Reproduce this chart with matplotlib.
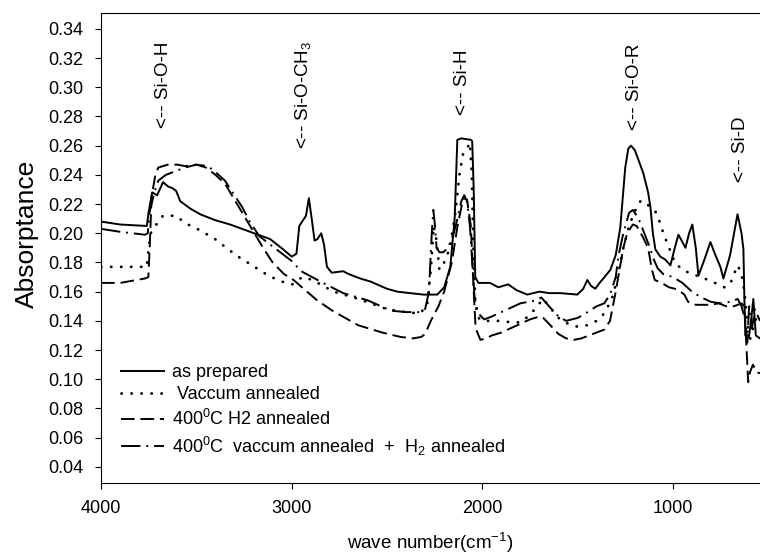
import matplotlib
matplotlib.use("Agg")
import matplotlib.pyplot as plt

# Fonte parecida com Arial
plt.rcParams['font.family'] = ['Liberation Sans', 'DejaVu Sans']
plt.rcParams['mathtext.fontset'] = 'custom'
plt.rcParams['mathtext.rm'] = 'Liberation Sans'
plt.rcParams['mathtext.it'] = 'Liberation Sans'

# as prepared (linha cheia)
prep_wn = [4000, 3900, 3760, 3750, 3732, 3706, 3675, 3648, 3627, 3606, 3585, 3533, 3480, 3402,
           3323, 3218, 3113, 3045, 3000, 2975, 2960, 2945, 2925, 2910, 2895, 2880, 2865, 2845,
           2830, 2815, 2790, 2730, 2700, 2640, 2588, 2500, 2446, 2310, 2236, 2200, 2168, 2145,
           2131, 2110, 2060, 2053, 2045, 2037, 2020, 1960, 1916, 1864, 1820, 1764, 1700, 1650,
           1591, 1501, 1470, 1449, 1430, 1407, 1385, 1365, 1328, 1300, 1276, 1250, 1234, 1220,
           1200, 1180, 1155, 1130, 1118, 1105, 1092, 1066, 1040, 1013, 990, 971, 950, 934, 915,
           898, 880, 866, 840, 803, 780, 751, 735, 700, 661, 640, 630, 625, 620, 600, 590, 578,
           565, 543]
prep_abs = [0.208, 0.206, 0.205, 0.215, 0.228, 0.226, 0.235, 0.232, 0.231, 0.229, 0.222, 0.217,
            0.213, 0.209, 0.206, 0.201, 0.196, 0.189, 0.184, 0.186, 0.205, 0.208, 0.212, 0.224,
            0.210, 0.195, 0.196, 0.200, 0.192, 0.177, 0.173, 0.174, 0.172, 0.169, 0.167, 0.162,
            0.160, 0.158, 0.158, 0.163, 0.177, 0.210, 0.264, 0.265, 0.264, 0.263, 0.230, 0.170,
            0.166, 0.166, 0.163, 0.165, 0.161, 0.158, 0.160, 0.159, 0.159, 0.158, 0.162, 0.168,
            0.164, 0.162, 0.166, 0.169, 0.175, 0.185, 0.204, 0.245, 0.258, 0.260, 0.257, 0.250,
            0.241, 0.228, 0.218, 0.200, 0.189, 0.184, 0.182, 0.178, 0.190, 0.199, 0.194, 0.190,
            0.200, 0.206, 0.190, 0.171, 0.180, 0.194, 0.186, 0.177, 0.169, 0.185, 0.213, 0.200,
            0.189, 0.155, 0.130, 0.130, 0.140, 0.155, 0.130, 0.128]

# Vaccum annealed (pontilhado)
vac_wn = [4000, 3760, 3750, 3740, 3720, 3700, 3675, 3606, 3560, 3480, 3402, 3333, 3281, 3207,
          3123, 3055, 2997, 2945, 2890, 2850, 2780, 2700, 2650, 2500, 2400, 2330, 2290, 2270,
          2255, 2240, 2225, 2200, 2170, 2140, 2120, 2100, 2080, 2065, 2055, 2045, 2035, 2015,
          1990, 1960, 1900, 1850, 1800, 1750, 1700, 1680, 1650, 1600, 1550, 1500, 1450, 1400,
          1360, 1320, 1290, 1260, 1230, 1200, 1170, 1150, 1120, 1092, 1070, 1050, 1020, 990,
          950, 900, 850, 800, 760, 730, 700, 680, 660, 640, 625, 610, 600, 590, 570, 543]
vac_abs = [0.177, 0.177, 0.190, 0.200, 0.204, 0.208, 0.212, 0.212, 0.207, 0.202, 0.196, 0.189,
           0.184, 0.178, 0.171, 0.167, 0.165, 0.170, 0.168, 0.165, 0.160, 0.157, 0.155, 0.148,
           0.146, 0.145, 0.150, 0.175, 0.205, 0.195, 0.175, 0.180, 0.190, 0.215, 0.240, 0.255,
           0.258, 0.262, 0.240, 0.180, 0.150, 0.141, 0.140, 0.140, 0.140, 0.139, 0.139, 0.144,
           0.152, 0.155, 0.150, 0.142, 0.138, 0.136, 0.137, 0.140, 0.145, 0.155, 0.170, 0.190,
           0.205, 0.215, 0.222, 0.222, 0.218, 0.215, 0.208, 0.200, 0.190, 0.180, 0.175, 0.172,
           0.170, 0.167, 0.165, 0.163, 0.165, 0.172, 0.178, 0.172, 0.160, 0.140, 0.125, 0.130,
           0.140, 0.145]

# 400C H2 annealed (tracejado)
h2_wn = [4000, 3900, 3770, 3752, 3745, 3735, 3715, 3700, 3650, 3600, 3560, 3500, 3450, 3400,
         3350, 3300, 3250, 3200, 3150, 3100, 3040, 2990, 2955, 2866, 2787, 2651, 2525, 2430,
         2362, 2320, 2300, 2270, 2230, 2200, 2160, 2130, 2100, 2080, 2060, 2045, 2035, 2010,
         1980, 1950, 1900, 1850, 1800, 1750, 1700, 1680, 1650, 1600, 1560, 1520, 1480, 1440,
         1400, 1360, 1330, 1300, 1280, 1260, 1240, 1210, 1190, 1160, 1130, 1110, 1095, 1060,
         1020, 990, 960, 940, 920, 880, 800, 760, 720, 680, 640, 625, 615, 605, 595, 580, 560,
         543]
h2_abs = [0.166, 0.166, 0.169, 0.170, 0.190, 0.225, 0.240, 0.245, 0.247, 0.247, 0.246, 0.247,
          0.245, 0.240, 0.234, 0.223, 0.212, 0.201, 0.190, 0.180, 0.172, 0.168, 0.164, 0.154,
          0.147, 0.137, 0.132, 0.129, 0.128, 0.129, 0.131, 0.140, 0.150, 0.160, 0.180, 0.205,
          0.224, 0.223, 0.205, 0.160, 0.135, 0.127, 0.128, 0.130, 0.132, 0.135, 0.138, 0.141,
          0.143, 0.142, 0.138, 0.131, 0.128, 0.127, 0.128, 0.130, 0.132, 0.134, 0.140, 0.160,
          0.175, 0.190, 0.200, 0.206, 0.205, 0.198, 0.190, 0.175, 0.168, 0.166, 0.163, 0.162,
          0.160, 0.158, 0.153, 0.151, 0.151, 0.152, 0.150, 0.150, 0.152, 0.150, 0.125, 0.098,
          0.105, 0.110, 0.105, 0.104]

# 400C vaccum annealed + H2 annealed (traço-ponto)
vh2_wn = [4000, 3900, 3770, 3755, 3745, 3720, 3700, 3660, 3620, 3560, 3500, 3440, 3400, 3350,
          3300, 3260, 3220, 3170, 3120, 3060, 3000, 2950, 2850, 2730, 2600, 2480, 2400, 2330,
          2300, 2280, 2265, 2257, 2248, 2240, 2225, 2205, 2180, 2150, 2130, 2110, 2095, 2080,
          2065, 2050, 2040, 2020, 1990, 1950, 1900, 1800, 1760, 1720, 1690, 1650, 1600, 1560,
          1500, 1460, 1400, 1360, 1330, 1300, 1285, 1260, 1230, 1210, 1180, 1150, 1120, 1100,
          1080, 1050, 1000, 950, 900, 850, 800, 750, 700, 660, 640, 620, 610, 600, 585, 570, 543]
vh2_abs = [0.203, 0.201, 0.199, 0.200, 0.215, 0.228, 0.236, 0.240, 0.242, 0.245, 0.247, 0.246,
           0.242, 0.236, 0.226, 0.218, 0.208, 0.198, 0.193, 0.187, 0.181, 0.174, 0.167, 0.159,
           0.154, 0.147, 0.146, 0.146, 0.148, 0.160, 0.200, 0.216, 0.205, 0.190, 0.187, 0.187,
           0.190, 0.200, 0.210, 0.222, 0.226, 0.222, 0.205, 0.175, 0.155, 0.145, 0.141, 0.143,
           0.146, 0.152, 0.153, 0.154, 0.156, 0.150, 0.143, 0.140, 0.142, 0.145, 0.150, 0.152,
           0.158, 0.170, 0.185, 0.200, 0.214, 0.216, 0.210, 0.200, 0.190, 0.182, 0.176, 0.172,
           0.170, 0.166, 0.160, 0.156, 0.153, 0.152, 0.153, 0.155, 0.150, 0.140, 0.125, 0.150,
           0.135, 0.148, 0.140]

labels = ['as prepared', ' Vaccum annealed', '400$^0$C H2 annealed',
          '400$^0$C  vaccum annealed  +  H$_2$ annealed']

# Marcadores das bandas: (texto, numero de onda, absorbancia da base do texto)
bands = ['<-- Si-O-H', '<-- Si-O-CH$_3$', '<-- Si-H', '<-- Si-O-R', '<-- Si-D']
band_wn = [3675, 2940, 2105, 1200, 645]
band_y = [0.272, 0.258, 0.281, 0.271, 0.235]

fig = plt.figure(figsize=(7.6, 5.57), dpi=100)
ax = fig.add_axes([0.133, 0.133, 0.867, 0.844])

ax.plot(prep_wn, prep_abs, color='black', lw=1.4, label=labels[0])
ax.plot(vac_wn, vac_abs, color='black', lw=2.0, linestyle=(0, (0.1, 3.5)),
        dash_capstyle='round', label=labels[1])
ax.plot(h2_wn, h2_abs, color='black', lw=1.4, linestyle=(0, (7, 3)), label=labels[2])
ax.plot(vh2_wn, vh2_abs, color='black', lw=1.4, linestyle=(0, (10, 3, 1, 3)), label=labels[3])

for txt, wn, y in zip(bands, band_wn, band_y):
    ax.text(wn, y, txt, rotation=90, ha='center', va='bottom', fontsize=13.5)

ax.set_xlim(4000, 543)
ax.set_ylim(0.029, 0.351)
ax.set_xticks([4000, 3000, 2000, 1000])
ax.set_yticks([0.04 + 0.02 * i for i in range(16)])
ax.set_yticklabels(['%.2f' % (0.04 + 0.02 * i) for i in range(16)])
ax.tick_params(direction='out', length=4, labelsize=13)
ax.tick_params(axis='x', pad=8)
ax.tick_params(axis='y', pad=9)
ax.spines['right'].set_visible(False)

ax.set_xlabel('wave number(cm$^{-1}$)', fontsize=13.5, labelpad=10)
ax.set_ylabel('Absorptance', fontsize=19)
ax.yaxis.set_label_coords(-0.094, 0.53)

ax.legend(loc='upper left', bbox_to_anchor=(0.016, 0.272), frameon=False, fontsize=13,
          handlelength=2.4, handletextpad=0.45, labelspacing=0.3, borderpad=0)

fig.savefig('out.png', dpi=100)
